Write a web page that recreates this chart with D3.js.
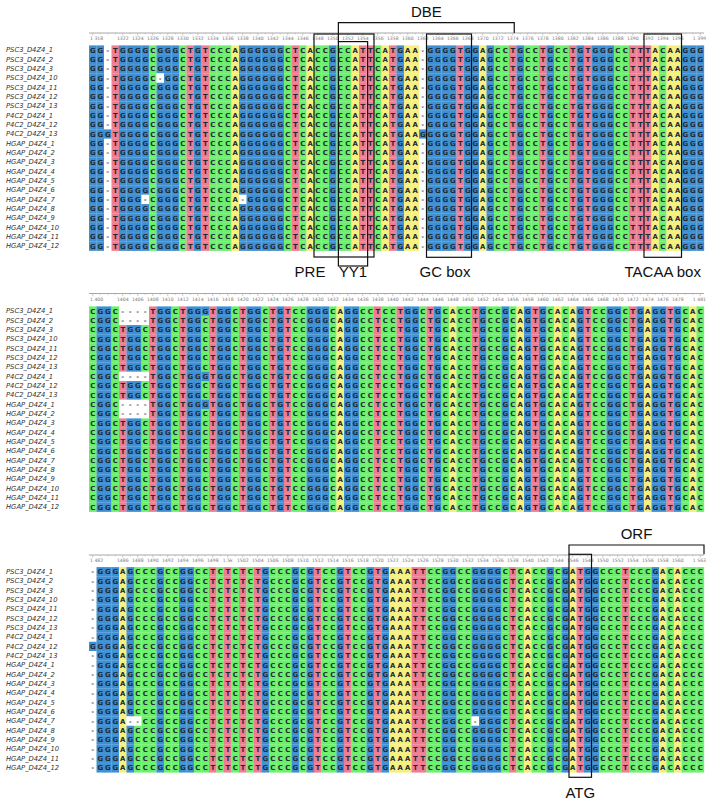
<!DOCTYPE html>
<html><head><meta charset="utf-8">
<script src="https://cdn.jsdelivr.net/npm/d3@7/dist/d3.min.js"></script>
<style>body{margin:0;background:#fff}</style>
</head><body>
<svg id="c" width="714" height="805"></svg>
<script>
// ---------- DATA ----------
const seqNames = [
  "PSC3_D4Z4_1","PSC3_D4Z4_2","PSC3_D4Z4_3","PSC3_D4Z4_10","PSC3_D4Z4_11","PSC3_D4Z4_12","PSC3_D4Z4_13",
  "P4C2_D4Z4_1","P4C2_D4Z4_12","P4C2_D4Z4_13",
  "HGAP_D4Z4_1","HGAP_D4Z4_2","HGAP_D4Z4_3","HGAP_D4Z4_4","HGAP_D4Z4_5","HGAP_D4Z4_6",
  "HGAP_D4Z4_7","HGAP_D4Z4_8","HGAP_D4Z4_9","HGAP_D4Z4_10","HGAP_D4Z4_11","HGAP_D4Z4_12"
];
const blockStarts = [1318, 1400, 1482];
const consensusSeqs = [
  "GG-TGGGGCGGGCTGTCCCAGGGGGGCTCACCGCCATTCATGAA-GGGGTGGAGCCTGCCTGCCTGTGGGCCTTTACAAGGG",
  "CGGCTGGCTGGCTGGCTGGCTGGCTGTCCGGGCAGGCCTCCTGGCTGCACCTGCCGCAGTGCACAGTCCGGCTGAGGTGCAC",
  "-GGGAGCCCGCCGGCCTCTCTCTGCCCGCGTCCGTCCGTGAAATTCCGGCCGGGGCTCACCGCGATGGCCCTCCCGACACCC"
];
// differences from the consensus: [sequence, position, base]
const variants = [
  ["PSC3_D4Z4_10",1327,"-"],
  ["P4C2_D4Z4_13",1320,"G"],["P4C2_D4Z4_13",1362,"G"],
  ["HGAP_D4Z4_7",1325,"-"],["HGAP_D4Z4_7",1338,"-"],
  ["PSC3_D4Z4_1",1404,"-"],["PSC3_D4Z4_1",1405,"-"],["PSC3_D4Z4_1",1406,"-"],["PSC3_D4Z4_1",1407,"-"],["PSC3_D4Z4_1",1415,"G"],
  ["PSC3_D4Z4_2",1404,"-"],["PSC3_D4Z4_2",1405,"-"],["PSC3_D4Z4_2",1406,"-"],["PSC3_D4Z4_2",1407,"-"],
  ["P4C2_D4Z4_1",1404,"-"],["P4C2_D4Z4_1",1405,"-"],["P4C2_D4Z4_1",1406,"-"],["P4C2_D4Z4_1",1407,"-"],["P4C2_D4Z4_1",1415,"G"],
  ["HGAP_D4Z4_1",1404,"-"],["HGAP_D4Z4_1",1405,"-"],["HGAP_D4Z4_1",1406,"-"],["HGAP_D4Z4_1",1407,"-"],["HGAP_D4Z4_1",1415,"G"],
  ["HGAP_D4Z4_2",1404,"-"],["HGAP_D4Z4_2",1405,"-"],["HGAP_D4Z4_2",1406,"-"],["HGAP_D4Z4_2",1407,"-"],
  ["P4C2_D4Z4_12",1482,"G"],
  ["HGAP_D4Z4_7",1487,"-"],["HGAP_D4Z4_7",1488,"-"],["HGAP_D4Z4_7",1533,"-"]
];
const bases = ["A","C","G","T","-"];
const baseColors = ["#f5ef7e","#6cef6c","#3f8fd3","#ee7d93","#ffffff"];
// annotated regions: [label, block, from, to(exclusive)]
const regionBoxes = [
  ["PRE",0,1348,1356],["YY1",0,1351.25,1355.15],["GC box",0,1363,1369],["TACAA box",0,1392,1397],["ATG",2,1546,1549]
];
const regionBrackets = [["DBE",0,1351.25,1374.7],["ORF",2,1546,1564]];

// ---------- DRAW ----------
const W = 714, H = 805;
const svg = d3.select("#c");
svg.append("rect").attr("width",W).attr("height",H).attr("fill","#fff");
const color = d3.scaleOrdinal().domain(bases).range(baseColors);
const nCols = 82, rowH = 9.333;
const blockRowTop = [45.4, 306.4, 567.1];
const rulerY = [33, 293.5, 555];
const xLeft = 89, xRight = 704;
const xs = blockStarts.map(s => d3.scaleLinear().domain([s, s + nCols]).range([xLeft, xRight]));
const cw = (xRight - xLeft) / nCols;

const varMap = new Map(variants.map(v => [v[0] + "|" + v[1], v[2]]));

blockStarts.forEach((start, b) => {
  const x = xs[b];
  const y = d3.scaleBand().domain(seqNames).range([blockRowTop[b], blockRowTop[b] + rowH * seqNames.length]);
  const g = svg.append("g");
  // ruler
  const ry = rulerY[b];
  g.append("line").attr("x1", xLeft).attr("x2", xRight).attr("y1", ry).attr("y2", ry)
    .attr("stroke", "#a8a8a8").attr("stroke-width", 1);
  const positions = d3.range(start, start + nCols);
  const last = start + nCols - 1;
  const tickPos = positions.filter(p => p === start || p === last || (p % 2 === 0 && p - start > 2 && last - p > 1));
  g.selectAll("line.tk").data(positions).join("line")
    .attr("x1", p => x(p + 0.5)).attr("x2", p => x(p + 0.5))
    .attr("y1", ry).attr("y2", p => tickPos.includes(p) ? ry + 2.6 : ry + 1.3)
    .attr("stroke", "#a8a8a8").attr("stroke-width", 0.6);
  const fmt = p => (p === start || p === last) ? (Math.floor(p / 1000) + " " + String(p % 1000).padStart(3, "0")) : (p === 1500 ? "1.5k" : String(p));
  g.selectAll("text.tl").data(tickPos).join("text")
    .attr("x", p => p === start ? x(p) + 1 : (p === last ? x(p + 1) + 2 : x(p + 0.5)))
    .attr("y", ry + 7.3)
    .attr("text-anchor", p => p === start ? "start" : (p === last ? "end" : "middle"))
    .attr("font-family", "DejaVu Sans, sans-serif").attr("font-size", 4.6).attr("fill", "#777")
    .text(fmt);
  // names
  g.selectAll("text.nm").data(seqNames).join("text")
    .attr("x", 6).attr("y", n => y(n) + rowH / 2 + 2.4)
    .attr("font-family", "DejaVu Sans, sans-serif").attr("font-style", "italic")
    .attr("font-size", 6.8).attr("fill", "#333").text(n => n);
  // cells
  const cells = [];
  seqNames.forEach(n => positions.forEach((p, i) => {
    const k = n + "|" + p;
    cells.push({ n, p, c: varMap.has(k) ? varMap.get(k) : consensusSeqs[b][i] });
  }));
  g.selectAll("rect.cell").data(cells).join("rect")
    .attr("x", d => x(d.p)).attr("y", d => y(d.n))
    .attr("width", cw + 0.15).attr("height", y.bandwidth() + 0.15)
    .attr("fill", d => color(d.c));
  g.selectAll("text.base").data(cells).join("text")
    .attr("x", d => x(d.p + 0.5)).attr("y", d => y(d.n) + rowH / 2 + 2.5)
    .attr("text-anchor", "middle")
    .attr("font-family", "DejaVu Sans, sans-serif").attr("font-weight", "bold")
    .attr("font-size", 6.9).attr("fill", d => d.c === "-" ? "#555" : "#1e2a33")
    .text(d => d.c);
});

// annotations
const ann = svg.append("g").attr("fill", "none").attr("stroke", "#111").attr("stroke-width", 1.2);
const labelFont = "Liberation Sans, Arial, sans-serif";
const boxY = { "PRE": [34, 257], "YY1": [41.6, 266], "GC box": [34, 257.3], "TACAA box": [34, 257.3], "ATG": [554.3, 777.3] };
const boxLabel = { "PRE": [-34, 277], "YY1": [0, 277], "GC box": [-4, 277], "TACAA box": [0, 277], "ATG": [0, 798] };
regionBoxes.forEach(([lab, b, f, t]) => {
  const x0 = xs[b](f), x1 = xs[b](t), [y0, y1] = boxY[lab];
  ann.append("rect").attr("x", x0).attr("y", y0).attr("width", x1 - x0).attr("height", y1 - y0);
  const [dx, ly] = boxLabel[lab];
  svg.append("text").attr("x", (x0 + x1) / 2 + dx).attr("y", ly).attr("text-anchor", "middle")
    .attr("font-family", labelFont).attr("font-size", 15).attr("fill", "#111").text(lab);
});
const brY = { "DBE": [22.6, 33, 17, 41.6], "ORF": [545, 554.3, 538.5, 554.3] };
regionBrackets.forEach(([lab, b, f, t]) => {
  const x0 = xs[b](f), x1 = xs[b](t), [yt, yb, ly, ylb] = brY[lab];
  ann.append("path").attr("d", `M${x0},${ylb}V${yt}H${x1}V${yb}`);
  svg.append("text").attr("x", (x0 + x1) / 2).attr("y", ly).attr("text-anchor", "middle")
    .attr("font-family", labelFont).attr("font-size", 15).attr("fill", "#111").text(lab);
});
</script>
</body></html>
